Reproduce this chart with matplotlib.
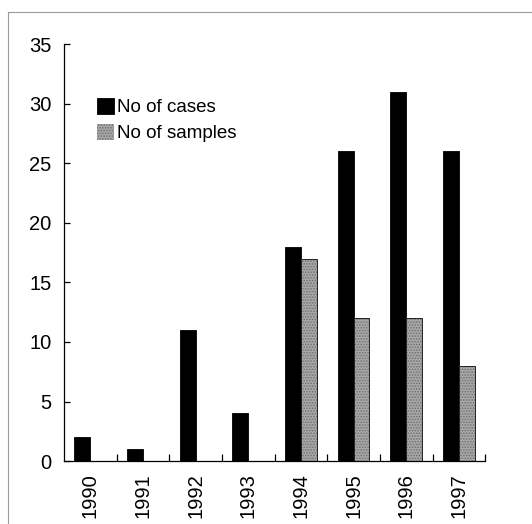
import matplotlib.pyplot as plt
from matplotlib.lines import Line2D
import numpy as np

plt.rcParams["font.family"] = ["Liberation Sans", "DejaVu Sans"]
plt.rcParams["hatch.linewidth"] = 0.8

# Data
years = ["1990", "1991", "1992", "1993", "1994", "1995", "1996", "1997"]
n_cases = [2, 1, 11, 4, 18, 26, 31, 26]
n_samples = [0, 0, 0, 0, 17, 12, 12, 8]
y_ticks = [0, 5, 10, 15, 20, 25, 30, 35]

fig = plt.figure(figsize=(5.32, 5.24), dpi=100)
ax = fig.add_axes([0.120, 0.120, 0.792, 0.796])

x = np.arange(len(years))
width = 0.3
ax.bar(x - width / 2, n_cases, width, color="black", edgecolor="black",
       linewidth=0.6, label="No of cases")
# dotted grey fill first, then a dark outline on top
ax.bar(x + width / 2, n_samples, width, color="#a8a8a8", edgecolor="#707070",
       linewidth=0, hatch="......", label="No of samples")
ax.bar(x + width / 2, n_samples, width, fill=False, edgecolor="#222222",
       linewidth=0.7)

ax.set_xlim(-0.5, len(years) - 0.5)
ax.set_ylim(0, 35)
ax.set_yticks(y_ticks)
ax.set_xticks(x)
ax.set_xticklabels(years, rotation=90)
ax.set_xticks(np.arange(len(years)) + 0.5, minor=True)

for side in ("top", "right"):
    ax.spines[side].set_visible(False)
for side in ("left", "bottom"):
    ax.spines[side].set_linewidth(0.9)

ax.tick_params(axis="y", direction="in", length=4, width=0.9, pad=9, labelsize=14.5)
ax.tick_params(axis="x", which="major", length=0, pad=9, labelsize=14.5)
ax.tick_params(axis="x", which="minor", direction="in", length=5, width=0.9)

ax.legend(loc="upper left", bbox_to_anchor=(0.062, 0.888), frameon=False,
          fontsize=13.5, handlelength=0.9, handleheight=0.9,
          handletextpad=0.12, labelspacing=0.4, borderaxespad=0)

# faint frame from the scanned page
fig.add_artist(Line2D([0.015, 1.0], [0.977, 0.977], color="#9a9a9a", linewidth=0.8))
fig.add_artist(Line2D([0.015, 0.015], [0.0, 0.977], color="#9a9a9a", linewidth=0.8))

fig.savefig("out.png", dpi=100)
